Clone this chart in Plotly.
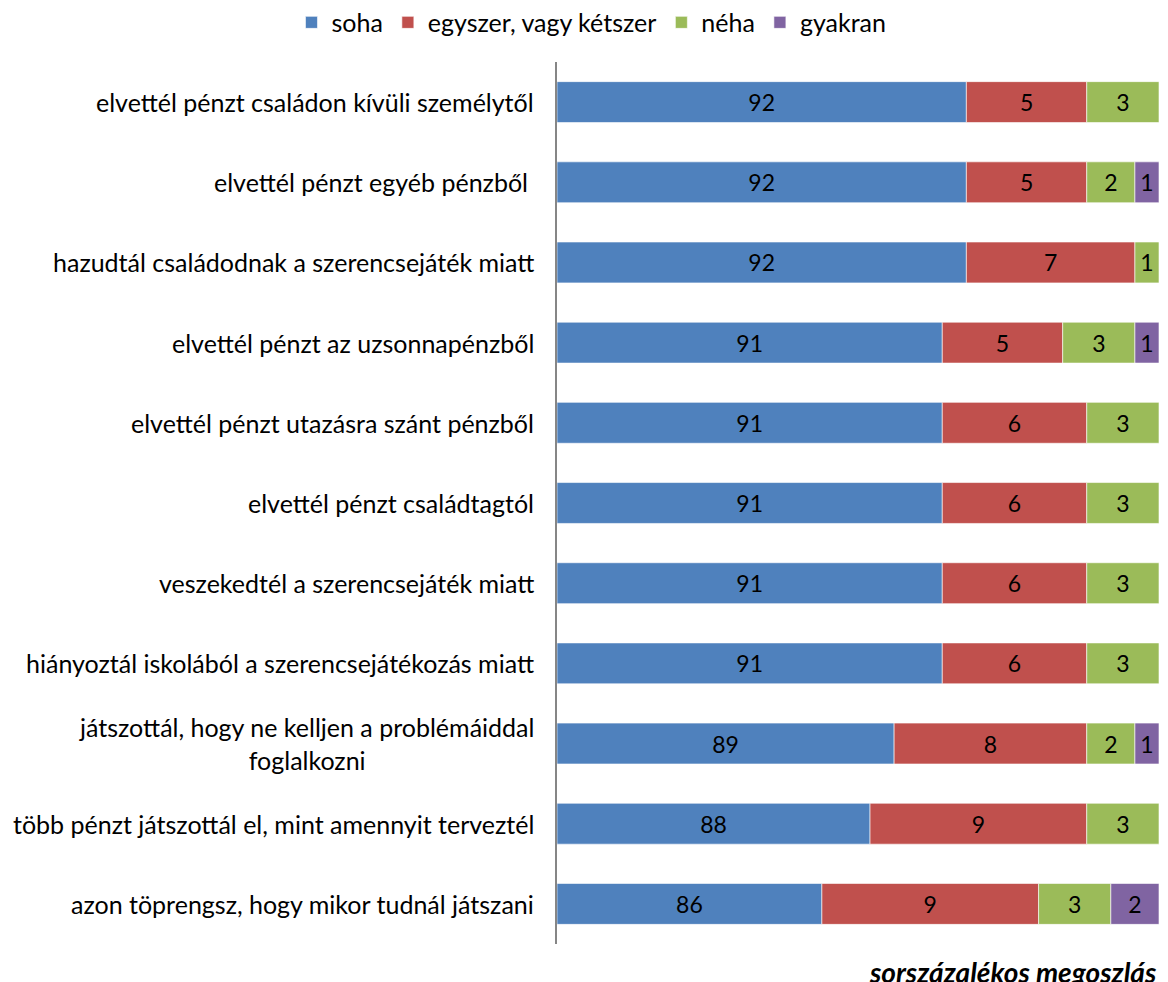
import plotly.graph_objects as go

# data (percent), top row first
categories = [
    "elvettél pénzt családon kívüli személytől",
    "elvettél pénzt egyéb pénzből ",
    "hazudtál családodnak a szerencsejáték miatt",
    "elvettél pénzt az uzsonnapénzből",
    "elvettél pénzt utazásra szánt pénzből",
    "elvettél pénzt családtagtól",
    "veszekedtél a szerencsejáték miatt",
    "hiányoztál iskolából a szerencsejátékozás miatt",
    "játszottál, hogy ne kelljen a problémáiddal<br>foglalkozni",
    "több pénzt játszottál el, mint amennyit terveztél",
    "azon töprengsz, hogy mikor tudnál játszani",
]
soha = [92, 92, 92, 91, 91, 91, 91, 91, 89, 88, 86]
egyszer = [5, 5, 7, 5, 6, 6, 6, 6, 8, 9, 9]
neha = [3, 2, 1, 3, 3, 3, 3, 3, 2, 3, 3]
gyakran = [0, 1, 0, 1, 0, 0, 0, 0, 1, 0, 2]

series_names = ["soha", "egyszer, vagy kétszer", "néha", "gyakran"]
colors = ["#4F81BD", "#C0504D", "#9BBB59", "#8064A2"]

X_MIN = 75   # the value axis starts at 75 in the original
X_MAX = 100

FONT = "Lato"

fig = go.Figure()

bases = [X_MIN] * len(categories)
for k, vals in enumerate([soha, egyszer, neha, gyakran]):
    if k == 0:
        lengths = [v - X_MIN for v in vals]
    else:
        lengths = [v if v else None for v in vals]
    fig.add_trace(go.Bar(
        y=categories, x=lengths, base=bases, orientation="h",
        name=series_names[k],
        marker=dict(color=colors[k], line=dict(color="white", width=0.6)),
        text=[str(v) if v else "" for v in vals],
        textposition="inside", insidetextanchor="middle", textangle=0,
        textfont=dict(family=FONT, size=23, color="black"),
        width=0.51,
    ))
    if k == 0:
        bases = list(soha)
    else:
        bases = [b + v for b, v in zip(bases, vals)]

# category labels as annotations so the wrapped one is centred
for c in categories:
    fig.add_annotation(x=0, xref="paper", xanchor="right", xshift=-21,
                       y=c, yref="y", text=c, showarrow=False, align="center",
                       font=dict(family=FONT, size=25, color="black"))

fig.add_annotation(x=1, xref="paper", xanchor="right", y=-0.010, yref="paper",
                   yanchor="top", text="<b><i>sorszázalékos megoszlás</i></b>",
                   showarrow=False, font=dict(family=FONT, size=28, color="black"))

# page body has an 8px margin, so the figure is 8px smaller than the window
fig.update_layout(
    width=1160, height=974,
    barmode="overlay",
    plot_bgcolor="white", paper_bgcolor="white",
    margin=dict(l=549, r=9, t=54, b=38),
    uniformtext=dict(minsize=23, mode="show"),
    legend=dict(orientation="h", x=0.503, xref="container", xanchor="center",
                y=0.985, yref="container", yanchor="middle",
                font=dict(family=FONT, size=25, color="black"),
                traceorder="normal", itemwidth=30),
    xaxis=dict(range=[X_MIN, X_MAX], showticklabels=False, showgrid=False,
               zeroline=False, showline=False, ticks=""),
    yaxis=dict(autorange="reversed", showticklabels=False, showgrid=False,
               showline=True, linecolor="#868686", linewidth=1.5, ticks=""),
)

fig.write_html("out.html")
